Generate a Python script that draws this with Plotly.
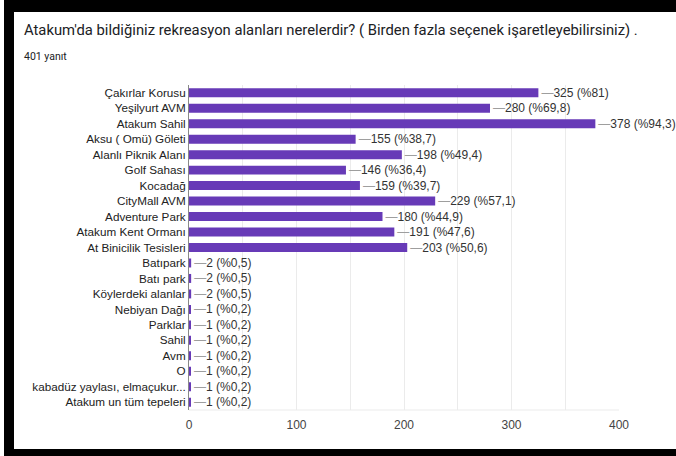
import plotly.graph_objects as go

categories = [
    "Çakırlar Korusu", "Yeşilyurt AVM", "Atakum Sahil", "Aksu ( Omü) Göleti",
    "Alanlı Piknik Alanı", "Golf Sahası", "Kocadağ", "CityMall AVM",
    "Adventure Park", "Atakum Kent Ormanı", "At Binicilik Tesisleri",
    "Batıpark", "Batı park", "Köylerdeki alanlar", "Nebiyan Dağı", "Parklar",
    "Sahil", "Avm", "O", "kabadüz yaylası, elmaçukur...", "Atakum un tüm tepeleri",
]
counts = [325, 280, 378, 155, 198, 146, 159, 229, 180, 191, 203,
          2, 2, 2, 1, 1, 1, 1, 1, 1, 1]
percents = ["81", "69,8", "94,3", "38,7", "49,4", "36,4", "39,7", "57,1",
            "44,9", "47,6", "50,6", "0,5", "0,5", "0,5", "0,2", "0,2",
            "0,2", "0,2", "0,2", "0,2", "0,2"]
x_ticks = [0, 100, 200, 300, 400]

title_text = "Atakum'da bildiğiniz rekreasyon alanları nerelerdir? ( Birden fazla seçenek işaretleyebilirsiniz) ."
subtitle_text = "401 yanıt"

W, H = 676, 456
L, R, T, B = 189, 619, 85, 410  # plot area in pixels

labels = [f"<span style='color:#9e9e9e'>—</span>{c} (%{p})" for c, p in zip(counts, percents)]

fig = go.Figure(go.Bar(
    y=categories, x=counts, orientation="h",
    marker=dict(color="#673ab7", line=dict(width=0)),
    text=labels, textposition="outside", cliponaxis=False,
    constraintext="none",
    textfont=dict(family="Liberation Sans, Arial", size=12, color="#333333"),
    hoverinfo="skip",
))

def px(xp):
    return (xp - L) / (R - L)

def py(yp):
    return (B - yp) / (B - T)

fig.update_layout(
    width=W, height=H,
    margin=dict(l=L, r=W - R, t=T, b=H - B, pad=0, autoexpand=False),
    paper_bgcolor="white", plot_bgcolor="white",
    showlegend=False, bargap=0.42,
    annotations=[
        dict(text=title_text, xref="paper", yref="paper",
             x=px(22), y=py(30), xanchor="left", yanchor="middle",
             showarrow=False,
             font=dict(family="Roboto", size=14.8, color="#202124")),
        dict(text=subtitle_text, xref="paper", yref="paper",
             x=px(22), y=py(56), xanchor="left", yanchor="middle",
             showarrow=False,
             font=dict(family="Roboto", size=10.5, color="#202124")),
    ],
    xaxis=dict(range=[0, 400], tickvals=x_ticks,
               showgrid=True, gridcolor="#ebebeb", gridwidth=1,
               minor=dict(dtick=50, showgrid=True, gridcolor="#ebebeb"),
               zeroline=False, showline=False, automargin=False,
               tickfont=dict(family="Liberation Sans, Arial", size=12, color="#444444"),
               ticks="", ticklabelstandoff=6),
    yaxis=dict(autorange="reversed", showgrid=False, zeroline=False,
               showline=True, linecolor="#888888", linewidth=1, automargin=False,
               ticks="", ticklabelstandoff=0,
               tickfont=dict(family="Liberation Sans, Arial", size=11.7, color="#222222")),
)

# black frame around the screenshot (top, left, bottom)
fig.add_shape(type="rect", xref="paper", yref="paper", x0=px(4), x1=px(676), y0=py(12), y1=py(0),
              fillcolor="black", line=dict(width=0), layer="above")
fig.add_shape(type="rect", xref="paper", yref="paper", x0=px(4), x1=px(14), y0=py(456), y1=py(0),
              fillcolor="black", line=dict(width=0), layer="above")
fig.add_shape(type="rect", xref="paper", yref="paper", x0=px(4), x1=px(676), y0=py(456), y1=py(449),
              fillcolor="black", line=dict(width=0), layer="above")
fig.add_shape(type="line", xref="paper", yref="paper", x0=0, x1=1, y0=0, y1=0,
              line=dict(color="#ebebeb", width=1), layer="below")

post = (
    "document.body.style.margin='0';"
    "document.body.style.overflow='hidden';"
    "window.scrollTo(0,0);"
    "var b=document.createElement('div');"
    "b.style.cssText='position:fixed;left:4px;top:0;width:672px;height:12px;background:#000;z-index:10000;pointer-events:none;';"
    "document.body.appendChild(b);"
)

fig.write_html("out.html", config={"displayModeBar": False}, post_script=post)
